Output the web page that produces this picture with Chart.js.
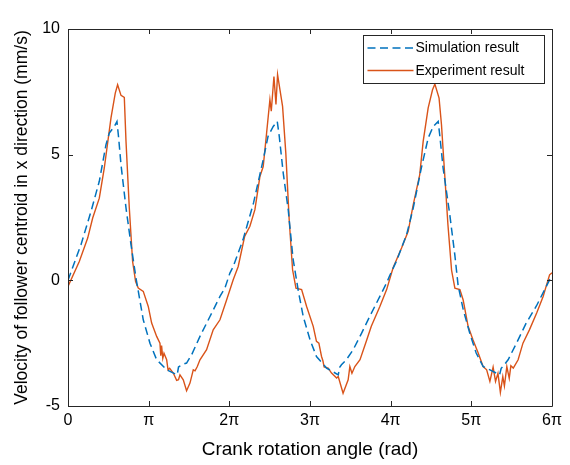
<!DOCTYPE html>
<html>
<head>
<meta charset="utf-8">
<script src="https://cdn.jsdelivr.net/npm/chart.js@4/dist/chart.umd.min.js"></script>
<style>
html,body{margin:0;padding:0;background:#fff;}
#wrap{width:570px;height:465px;}
</style>
</head>
<body>
<div id="wrap"><canvas id="c" width="570" height="465"></canvas></div>
<script>
// Angle values are in units of π rad
const seriesNames = ["Simulation result", "Experiment result"];
const xTickLabels = ["0", "π", "2π", "3π", "4π", "5π", "6π"];
const yTickValues = [-5, 0, 5, 10];

const simAngle = [0, 0.161, 0.285, 0.388, 0.471, 0.512, 0.574, 0.607, 0.628, 0.657, 0.719, 0.781, 0.843, 0.933, 1.016, 1.099, 1.223, 1.354, 1.37, 1.409, 1.47, 1.533, 1.636, 1.76, 1.884, 1.945,
  2.007, 2.048, 2.17, 2.3, 2.42, 2.48, 2.544, 2.594, 2.619, 2.668, 2.73, 2.79, 2.854, 2.916, 3.0, 3.08, 3.205, 3.35, 3.37, 3.39, 3.45, 3.535, 3.64, 3.74, 3.866, 3.95,
  3.99, 4.07, 4.197, 4.28, 4.38, 4.465, 4.527, 4.589, 4.61, 4.65, 4.733, 4.795, 4.836, 4.9, 4.98, 5.06, 5.146, 5.31, 5.35, 5.37, 5.39, 5.456, 5.56, 5.68, 5.81, 5.97, 6.0];
const simVel = [0, 1.42, 2.74, 3.94, 5.4, 5.86, 6.12, 6.32, 5.66, 4.6, 2.88, 1.42, 0.09, -1.57, -2.5, -3.16, -3.56, -3.76, -3.45, -3.36, -3.29, -2.96, -2.23, -1.44, -0.64, -0.31,
  0.29, 0.55, 1.62, 3.08, 4.8, 5.73, 6.12, 6.32, 5.73, 4.27, 2.81, 0.85, -0.4, -1.44, -2.36, -3.03, -3.49, -3.76, -3.45, -3.36, -3.16, -2.76, -2.1, -1.44, -0.64, -0.1,
  0.2, 0.75, 1.81, 2.88, 4.47, 5.66, 6.12, 6.32, 5.73, 4.47, 2.61, 1.02, -0.2, -1.17, -2.1, -2.89, -3.43, -3.69, -3.76, -3.5, -3.43, -3.16, -2.5, -1.7, -1.0, 0.02, 0.1];

const expAngle = [0, 0.14, 0.244, 0.306, 0.388, 0.45, 0.533, 0.586, 0.615, 0.657, 0.698, 0.719, 0.76, 0.801, 0.838, 0.871, 0.933, 0.995, 1.037, 1.099, 1.14, 1.15, 1.16, 1.175, 1.19, 1.223, 1.24, 1.26, 1.305, 1.347, 1.37, 1.388, 1.429, 1.47, 1.512, 1.553, 1.575, 1.603, 1.636, 1.718, 1.8, 1.884, 1.967,
  2.048, 2.11, 2.19, 2.255, 2.317, 2.379, 2.42, 2.462, 2.503, 2.52, 2.553, 2.578, 2.598, 2.66, 2.7, 2.742, 2.784, 2.826, 2.896, 2.958, 3.04, 3.08, 3.11, 3.143, 3.16, 3.175, 3.225, 3.267, 3.33, 3.35, 3.41, 3.473, 3.494, 3.52, 3.556, 3.62, 3.7, 3.76, 3.866, 3.95,
  4.03, 4.135, 4.217, 4.28, 4.36, 4.403, 4.465, 4.519, 4.548, 4.6, 4.63, 4.67, 4.71, 4.755, 4.796, 4.858, 4.898, 4.96, 5.02, 5.085, 5.146, 5.19, 5.23, 5.27, 5.3, 5.33, 5.36, 5.39, 5.41, 5.44, 5.47, 5.49, 5.52, 5.58, 5.64, 5.72, 5.81, 5.89, 5.97, 6.0];
const expVel = [-0.24, 0.75, 1.68, 2.48, 3.27, 4.47, 6.46, 7.45, 7.78, 7.36, 7.28, 5.53, 2.88, 0.75, -0.05, -0.31, -0.44, -1.04, -1.7, -2.23, -2.5, -3.0, -2.6, -3.1, -2.9, -3.16, -3.56, -3.5, -3.69, -3.98, -3.95, -3.76, -3.96, -4.39, -4.09, -3.56, -3.6, -3.43, -3.16, -2.76, -1.97, -1.57, -0.77,
  0.02, 0.55, 1.75, 2.15, 2.81, 4.13, 4.53, 5.86, 7.19, 6.73, 8.11, 7.0, 8.18, 6.92, 5.07, 2.41, 0.42, -0.31, -0.37, -1.04, -1.83, -2.43, -2.5, -3.03, -3.2, -3.45, -3.49, -3.69, -3.89, -3.83, -4.49, -3.96, -3.43, -3.7, -3.43, -3.16, -2.4, -1.83, -1.04, -0.37,
  0.5, 1.29, 1.95, 3.01, 4.2, 5.53, 6.86, 7.58, 7.81, 7.25, 6.19, 4.2, 2.21, 0.4, -0.31, -0.37, -0.77, -1.83, -2.36, -2.89, -3.43, -3.56, -4.02, -3.45, -4.02, -3.7, -4.46, -3.83, -4.2, -3.43, -3.9, -3.4, -3.49, -3.16, -2.5, -1.97, -1.3, -0.64, 0.22, 0.3];

const BLUE = "#0072BD", ORANGE = "#D95319", AXIS = "#262626";
const FONT = "'Liberation Sans', Arial, sans-serif";

const simData = simAngle.map((a, i) => ({x: a, y: simVel[i]}));
const expData = expAngle.map((a, i) => ({x: a, y: expVel[i]}));

const boxPlugin = {
  id: "box",
  afterDatasetsDraw(chart) {
    const {ctx, chartArea: a, scales: {x, y}} = chart;
    ctx.save();
    ctx.strokeStyle = AXIS;
    ctx.lineWidth = 1;
    ctx.beginPath();
    ctx.rect(Math.round(a.left) + 0.5, Math.round(a.top) + 0.5, Math.round(a.right - a.left), Math.round(a.bottom - a.top));
    const T = 5;
    x.ticks.forEach(t => {
      const px = Math.round(x.getPixelForValue(t.value)) + 0.5;
      ctx.moveTo(px, a.bottom); ctx.lineTo(px, a.bottom - T);
      ctx.moveTo(px, a.top); ctx.lineTo(px, a.top + T);
    });
    y.ticks.forEach(t => {
      const py = Math.round(y.getPixelForValue(t.value)) + 0.5;
      ctx.moveTo(a.left, py); ctx.lineTo(a.left + T, py);
      ctx.moveTo(a.right, py); ctx.lineTo(a.right - T, py);
    });
    ctx.stroke();

    // legend
    const w = 181, h = 48;
    const lx = Math.round(a.right) - 8 - w + 0.5, ly = Math.round(a.top) + 6 + 0.5;
    ctx.fillStyle = "#fff";
    ctx.fillRect(lx, ly, w, h);
    ctx.strokeStyle = AXIS;
    ctx.strokeRect(lx, ly, w, h);
    const rows = [ly + 12.5, ly + 35];
    const styles = [{c: BLUE, d: [8, 4.5]}, {c: ORANGE, d: []}];
    chart.data.datasets.forEach((ds, i) => {
      ctx.beginPath();
      ctx.strokeStyle = styles[i].c;
      ctx.lineWidth = 1.5;
      ctx.setLineDash(styles[i].d);
      ctx.moveTo(lx + 4, rows[i]);
      ctx.lineTo(lx + 50, rows[i]);
      ctx.stroke();
      ctx.setLineDash([]);
      ctx.fillStyle = "#000";
      ctx.font = "14px " + FONT;
      ctx.textBaseline = "middle";
      ctx.textAlign = "left";
      ctx.fillText(ds.label, lx + 52, rows[i] + 0.5);
    });
    ctx.restore();
  }
};

new Chart(document.getElementById("c"), {
  type: "line",
  data: {
    datasets: [
      {label: seriesNames[0], data: simData, borderColor: BLUE, borderWidth: 1.5, borderDash: [8, 4.5], pointRadius: 0, tension: 0, fill: false},
      {label: seriesNames[1], data: expData, borderColor: ORANGE, borderWidth: 1.4, pointRadius: 0, tension: 0, fill: false}
    ]
  },
  options: {
    responsive: false,
    animation: false,
    devicePixelRatio: 1,
    layout: {padding: {top: 29, right: 18, left: 0, bottom: 0}},
    plugins: {legend: {display: false}, tooltip: {enabled: false}},
    scales: {
      x: {
        type: "linear", min: 0, max: 6,
        afterFit(s) { s.height = 59; },
        afterBuildTicks(s) { s.ticks = xTickLabels.map((_, i) => ({value: i})); },
        grid: {display: false, drawTicks: false},
        border: {display: false},
        ticks: {
          padding: 5, color: "#000", font: {family: FONT, size: 16},
          maxRotation: 0, autoSkip: false,
          callback: (v) => xTickLabels[Math.round(v)]
        },
        title: {display: true, text: "Crank rotation angle (rad)", color: "#000", font: {family: FONT, size: 19}, padding: {top: 2, bottom: 4}}
      },
      y: {
        type: "linear", min: -5, max: 10,
        afterFit(s) { s.width = 68; },
        afterBuildTicks(s) { s.ticks = yTickValues.map(v => ({value: v})); },
        grid: {display: false, drawTicks: false},
        border: {display: false},
        ticks: {padding: 8, color: "#000", font: {family: FONT, size: 16}, autoSkip: false},
        title: {display: true, text: "Velocity of follower centroid in x direction (mm/s)", color: "#000", font: {family: FONT, size: 17.5}, padding: {top: 12, bottom: 0}}
      }
    }
  },
  plugins: [boxPlugin]
});
</script>
</body>
</html>
